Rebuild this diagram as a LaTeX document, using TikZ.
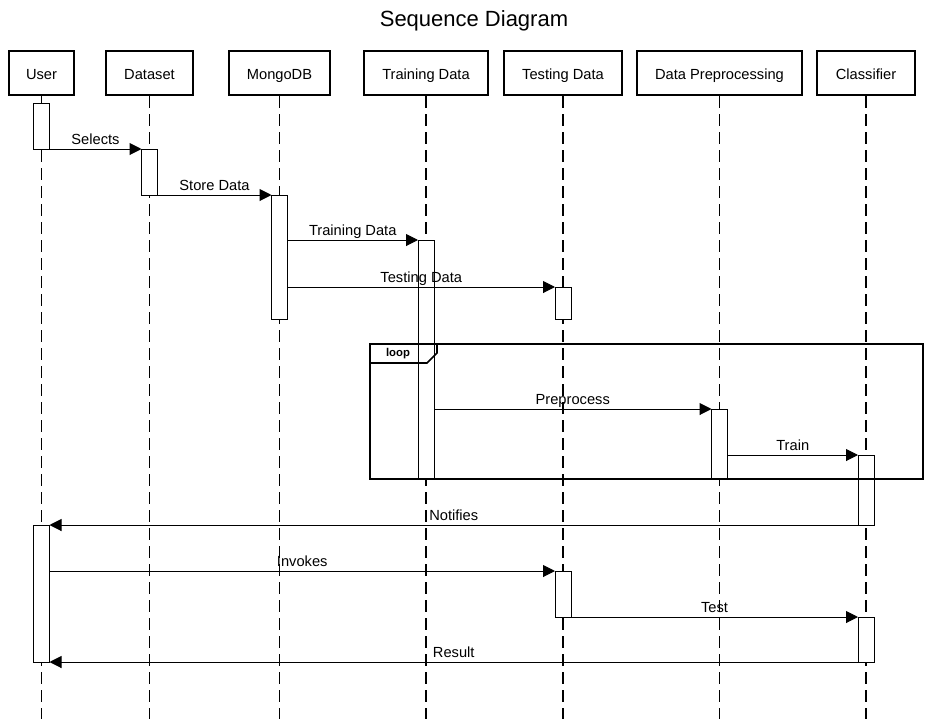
\documentclass[tikz,border=0pt]{standalone}
\usepackage{fontspec}
\setmainfont{Liberation Sans}
\usetikzlibrary{arrows.meta}

\begin{document}
\begin{tikzpicture}[x=0.75pt, y=-0.75pt,
    actor/.style={draw, line width=1.5pt, minimum height=33pt, inner sep=2pt, text height=10pt, text depth=0pt, font=\fontsize{11}{13}\selectfont},
    wd/.style={minimum width=#1*0.75pt},
    bar/.style={draw, fill=white, line width=0.75pt, minimum width=12pt, inner sep=0pt, outer sep=0pt, anchor=north},
    barlen/.style={minimum height=#1*0.75pt},
    % Line styles
    lifeline/.style={black, line width=0.9pt, dash pattern=on 9pt off 4.5pt},
    msg/.style={line width=0.75pt, -{Triangle[length=9pt, width=9pt]}},
    lbl/.style={font=\fontsize{11}{13}\selectfont, inner sep=1pt, text height=8pt, text depth=2.3pt},
    loopframe/.style={line width=1.5pt},
    ]
    \useasboundingbox (0,0) rectangle (947,719);
    \coordinate (bottom) at (0,719);

    % Title
    \node[font=\fontsize{16.5}{19}\selectfont] (title) at (474,20.5) {Sequence Diagram};

    % Participants
    \node[actor, wd=65] (user) at (41.5,73) {User};
    \node[actor, wd=87] (dataset) at (149.5,73) {Dataset};
    \node[actor, wd=101] (mongo) at (279.5,73) {MongoDB};
    \node[actor, wd=124] (traindata) at (426,73) {Training Data};
    \node[actor, wd=118] (testdata) at (563,73) {Testing Data};
    \node[actor, wd=165] (prep) at (719.5,73) {Data Preprocessing};
    \node[actor, wd=98] (clf) at (866,73) {Classifier};

    % Lifelines
    \foreach \n in {user,dataset,mongo,traindata,testdata,prep,clf}
        \draw[lifeline] (\n.south) -- (\n.south |- bottom);

    % Activation bars
    \node[bar, barlen=46] (ub1) at (41.5,103) {};
    \node[bar, barlen=46] (db1) at (149.5,149) {};
    \node[bar, barlen=124] (mb1) at (279.5,195) {};
    \node[bar, barlen=239] (tb1) at (426,240) {};
    \node[bar, barlen=32] (sb1) at (563,287) {};
    \node[bar, barlen=70] (pb1) at (719.5,409) {};
    \node[bar, barlen=70] (cb1) at (866,455) {};
    \node[bar, barlen=137] (ub2) at (41.5,525) {};
    \node[bar, barlen=46] (sb2) at (563,571) {};
    \node[bar, barlen=45] (cb2) at (866,617) {};

    % Loop frame
    \draw[loopframe] (370,344) rectangle (923,479);
    \draw[line width=1.2pt] (370,363) -- (427,363) -- (437,353) -- (437,344);
    \node[font=\bfseries\fontsize{8.5}{10}\selectfont] (looplbl) at (398,354) {loop};

    % Messages
    \draw[msg] (ub1.south east) -- node[lbl, above] {Selects} (db1.north west);
    \draw[msg] (db1.south east) -- node[lbl, above] {Store Data} (mb1.north west);
    \draw[msg] (mb1.east |- tb1.north) -- node[lbl, above] {Training Data} (tb1.north west);
    \draw[msg] (mb1.east |- sb1.north) -- node[lbl, above] {Testing Data} (sb1.north west);
    \draw[msg] (tb1.east |- pb1.north) -- node[lbl, above] {Preprocess} (pb1.north west);
    \draw[msg] (pb1.east |- cb1.north) -- node[lbl, above] {Train} (cb1.north west);
    \draw[msg] (cb1.south west) -- node[lbl, above] {Notifies} (ub2.north east);
    \draw[msg] (ub2.east |- sb2.north) -- node[lbl, above] {Invokes} (sb2.north west);
    \draw[msg] (sb2.south east) -- node[lbl, above] {Test} (cb2.north west);
    \draw[msg] (cb2.south west) -- node[lbl, above] {Result} (ub2.south east);
\end{tikzpicture}
\end{document}
